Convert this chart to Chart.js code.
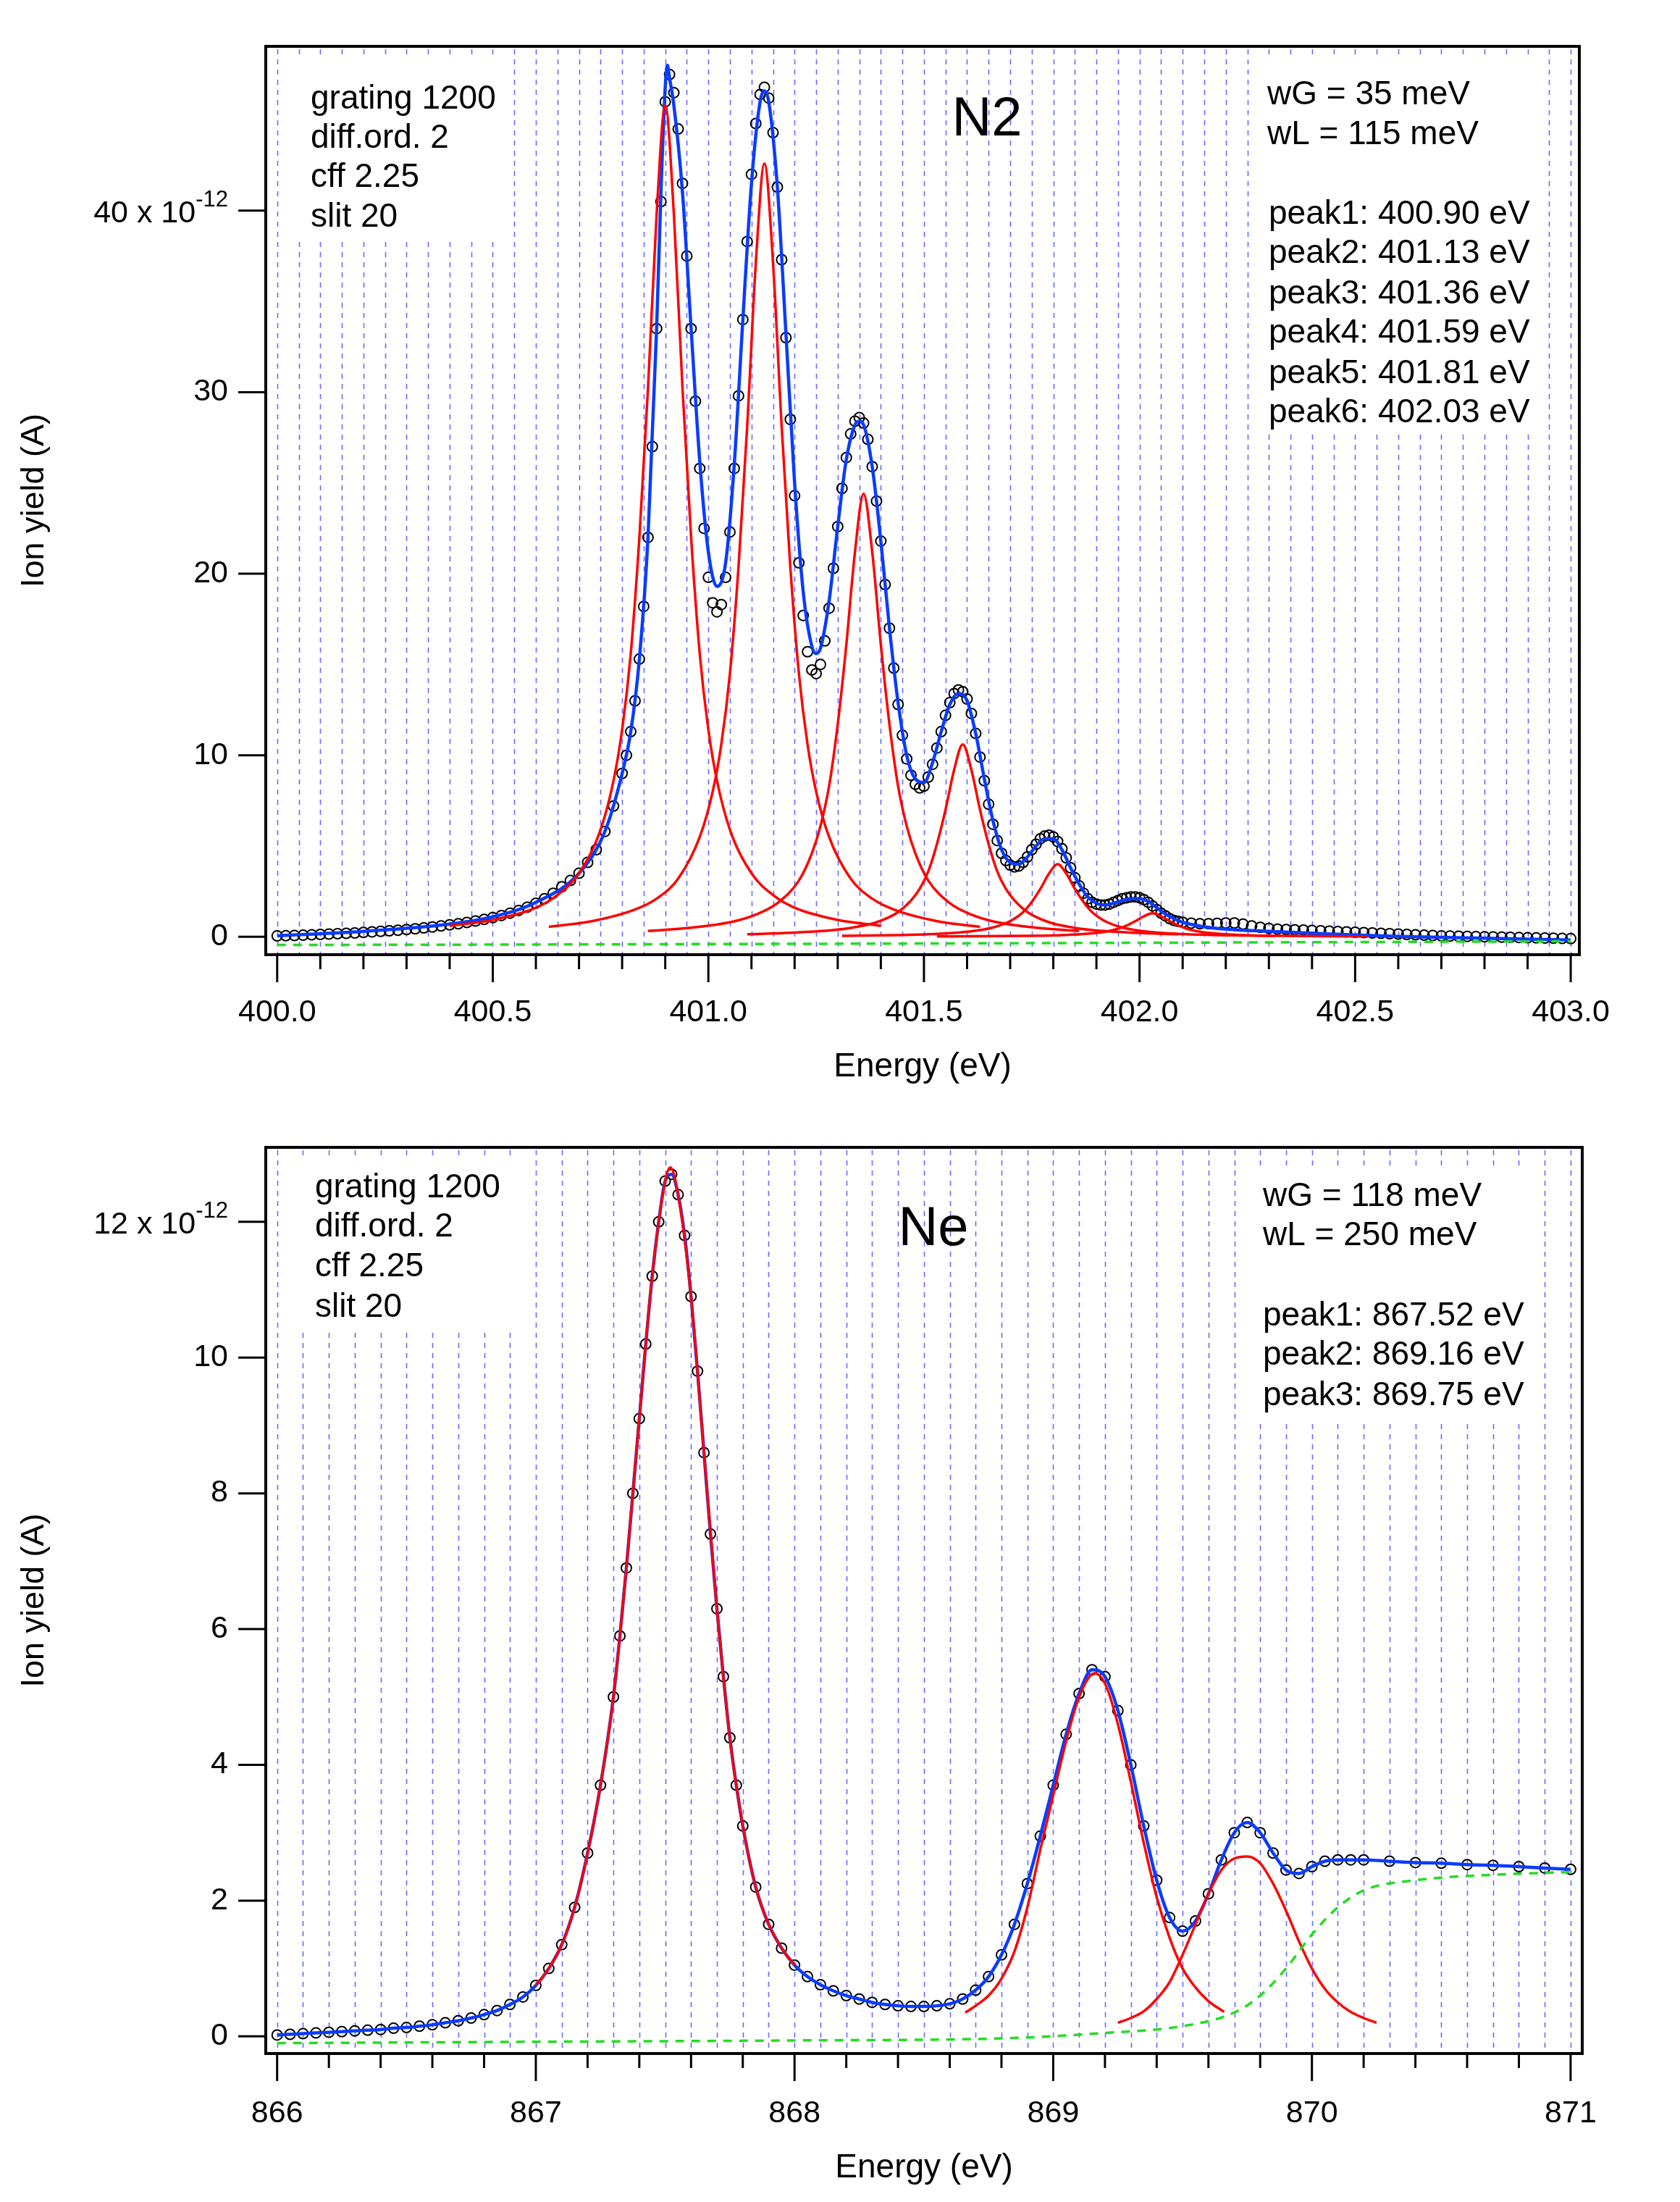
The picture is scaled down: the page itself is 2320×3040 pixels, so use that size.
<!DOCTYPE html>
<html><head><meta charset="utf-8">
<script src="https://cdn.jsdelivr.net/npm/chart.js@4.4.1/dist/chart.umd.min.js"></script>
<style>
html,body{margin:0;padding:0;background:#fff;width:2320px;height:3040px;overflow:hidden}
.box{position:absolute;left:0;width:2320px;height:1520px}
</style></head><body>
<div class="box" style="top:0"><canvas id="c1" width="2320" height="1520"></canvas></div>
<div class="box" style="top:1520px"><canvas id="c2" width="2320" height="1520"></canvas></div>
<script>
// ---------- N2 data ----------
const n2Energy = [400.00,400.02,400.04,400.06,400.08,400.10,400.12,400.14,400.16,400.18,400.20,400.22,400.24,400.26,400.28,400.30,400.32,400.34,400.36,400.38,400.40,400.42,400.44,400.46,400.48,400.50,400.52,400.54,400.56,400.58,400.60,400.62,400.64,400.66,400.68,400.70,400.72,400.74,400.76,400.78,
400.80,400.81,400.82,400.83,400.84,400.85,400.86,400.87,400.88,400.89,400.90,400.91,400.92,400.93,400.94,400.95,400.96,400.97,400.98,400.99,
401.00,401.01,401.02,401.03,401.04,401.05,401.06,401.07,401.08,401.09,401.10,401.11,401.12,401.13,401.14,401.15,401.16,401.17,401.18,401.19,
401.20,401.21,401.22,401.23,401.24,401.25,401.26,401.27,401.28,401.29,401.30,401.31,401.32,401.33,401.34,401.35,401.36,401.37,401.38,401.39,
401.40,401.41,401.42,401.43,401.44,401.45,401.46,401.47,401.48,401.49,401.50,401.51,401.52,401.53,401.54,401.55,401.56,401.57,401.58,401.59,
401.60,401.61,401.62,401.63,401.64,401.65,401.66,401.67,401.68,401.69,401.70,401.71,401.72,401.73,401.74,401.75,401.76,401.77,401.78,401.79,
401.80,401.81,401.82,401.83,401.84,401.85,401.86,401.87,401.88,401.89,401.90,401.91,401.92,401.93,401.94,401.95,401.96,401.97,401.98,401.99,
402.00,402.01,402.02,402.03,402.04,402.05,402.06,402.07,402.08,402.09,402.10,
402.12,402.14,402.16,402.18,402.20,402.22,402.24,402.26,402.28,402.30,402.32,402.34,402.36,402.38,402.40,402.42,402.44,402.46,402.48,402.50,
402.52,402.54,402.56,402.58,402.60,402.62,402.64,402.66,402.68,402.70,402.72,402.74,402.76,402.78,402.80,402.82,402.84,402.86,402.88,402.90,402.92,402.94,402.96,402.98,403.00];
const n2Yield = [0.05,0.06,0.07,0.09,0.11,0.13,0.15,0.17,0.19,0.21,0.24,0.27,0.3,0.33,0.36,0.4,0.44,0.49,0.54,0.6,0.66,0.72,0.79,0.87,0.96,1.06,1.17,1.3,1.45,1.63,1.85,2.1,2.4,2.75,3.1,3.5,4.1,4.8,5.8,7.2,
9.0,10.0,11.3,13.0,15.3,18.2,22.0,27.0,33.5,40.5,46.0,47.5,46.5,44.5,41.5,37.5,33.5,29.5,25.8,22.5,
19.8,18.4,17.9,18.3,19.8,22.3,25.8,29.8,34.0,38.3,42.0,44.8,46.4,46.8,46.2,44.3,41.3,37.3,33.0,28.5,
24.3,20.6,17.7,15.7,14.7,14.5,15.0,16.3,18.1,20.3,22.6,24.7,26.4,27.7,28.4,28.6,28.3,27.4,25.9,24.0,
21.8,19.4,17.0,14.8,12.8,11.1,9.8,8.9,8.4,8.2,8.3,8.8,9.5,10.4,11.3,12.2,12.9,13.4,13.6,13.5,
13.1,12.3,11.2,9.9,8.6,7.3,6.2,5.3,4.6,4.2,3.95,3.85,3.9,4.1,4.4,4.8,5.1,5.4,5.55,5.6,
5.5,5.25,4.85,4.35,3.8,3.25,2.8,2.4,2.1,1.9,1.8,1.75,1.75,1.8,1.9,2.0,2.1,2.15,2.2,2.2,
2.15,2.05,1.9,1.7,1.5,1.3,1.15,1.0,0.9,0.85,0.8,
0.75,0.72,0.72,0.74,0.76,0.76,0.7,0.6,0.52,0.46,0.42,0.4,0.38,0.37,0.35,0.33,0.31,0.29,0.27,0.25,
0.23,0.21,0.19,0.17,0.15,0.13,0.11,0.09,0.07,0.05,0.04,0.03,0.02,0.01,0.0,-0.01,-0.02,-0.03,-0.04,-0.05,-0.06,-0.07,-0.08,-0.09,-0.1];
const n2FitEnergy = [400.0,400.2,400.4,400.5,400.6,400.7,400.76,400.80,400.82,400.84,400.86,400.88,400.89,400.90,400.905,400.91,400.92,400.94,400.96,400.98,
401.00,401.02,401.04,401.06,401.08,401.10,401.12,401.13,401.14,401.16,401.18,401.20,401.22,401.24,401.25,401.26,401.28,401.30,401.32,401.34,401.35,401.36,401.38,
401.40,401.42,401.44,401.46,401.48,401.50,401.52,401.54,401.56,401.58,401.60,401.62,401.64,401.66,401.68,401.70,401.72,401.74,401.76,401.78,
401.80,401.82,401.84,401.86,401.88,401.90,401.92,401.94,401.96,401.98,402.00,402.02,402.04,402.06,402.08,402.10,402.15,402.2,402.3,402.4,402.5,402.6,402.8,403.0];
const n2Fit = [0.05,0.3,0.7,1.1,1.9,3.5,5.8,9.0,11.3,15.3,22.0,33.5,41.0,46.8,48.0,47.3,45.8,41.0,33.5,26.2,
21.2,19.3,20.6,26.0,34.0,41.5,46.0,46.6,46.0,41.3,33.2,25.0,19.0,16.0,15.6,15.9,18.5,22.6,26.3,28.2,28.4,28.2,25.9,
21.8,17.0,12.9,10.0,8.7,8.5,9.6,11.3,12.8,13.4,13.0,11.2,8.7,6.4,4.8,4.1,4.0,4.4,5.0,5.4,
5.4,4.8,3.8,2.9,2.2,1.85,1.75,1.85,2.0,2.1,2.1,1.95,1.6,1.25,1.0,0.8,0.55,0.42,0.3,0.2,0.1,0.02,-0.08,-0.18];
const n2PeakOffsets = [-0.5,-0.4,-0.3,-0.25,-0.2,-0.15,-0.12,-0.1,-0.08,-0.06,-0.04,-0.02,0,0.02,0.04,0.06,0.08,0.1,0.12,0.15,0.2,0.25,0.3,0.4,0.5];
const n2PeakCenters = [400.90,401.13,401.36,401.59,401.81,402.03];
const n2Peak1 = [0.6,0.93,1.6,2.3,3.5,5.9,8.6,11.4,15.6,22,30.2,39.8,45.8,39.8,30.2,22,15.6,11.4,8.6,5.9,3.5,2.3,1.6,0.93,0.6];
const n2Peak2 = [0.55,0.86,1.5,2.1,3.2,5.5,8.0,10.6,14.5,20.4,28.1,37.1,42.6,37.1,28.1,20.4,14.5,10.6,8.0,5.5,3.2,2.1,1.5,0.86,0.55];
const n2Peak3 = [0.32,0.5,0.85,1.22,1.85,3.1,4.6,6.1,8.3,11.7,16.1,21.2,24.4,21.2,16.1,11.7,8.3,6.1,4.6,3.1,1.85,1.22,0.85,0.5,0.32];
const n2Peak4 = [0.14,0.22,0.37,0.53,0.8,1.36,2.0,2.64,3.6,5.1,7.0,9.2,10.6,9.2,7.0,5.1,3.6,2.64,2.0,1.36,0.8,0.53,0.37,0.22,0.14];
const n2Peak5 = [0.05,0.08,0.14,0.2,0.3,0.51,0.75,1.0,1.36,1.92,2.64,3.48,4.0,3.48,2.64,1.92,1.36,1.0,0.75,0.51,0.3,0.2,0.14,0.08,0.05];
const n2Peak6 = [0.02,0.03,0.05,0.065,0.1,0.17,0.24,0.32,0.44,0.62,0.86,1.13,1.3,1.13,0.86,0.62,0.44,0.32,0.24,0.17,0.1,0.065,0.05,0.03,0.02];
const n2BaseEnergy = [400.0,400.5,401.0,401.5,402.0,402.5,403.0];
const n2Base = [-0.45,-0.43,-0.4,-0.37,-0.33,-0.29,-0.25];
const n2YTicks = [0,10,20,30,40];

// ---------- Ne data ----------
const neEnergy = [866.00,866.05,866.10,866.15,866.20,866.25,866.30,866.35,866.40,866.45,866.50,866.55,866.60,866.65,866.70,866.75,866.80,866.85,866.90,866.95,
867.00,867.05,867.10,867.15,867.20,867.25,867.30,867.325,867.35,867.375,867.40,867.425,867.45,867.475,867.50,867.525,867.55,867.575,867.60,867.625,867.65,867.675,867.70,867.725,867.75,867.775,867.80,867.85,867.90,867.95,
868.00,868.05,868.10,868.15,868.20,868.25,868.30,868.35,868.40,868.45,868.50,868.55,868.60,868.65,868.70,868.75,868.80,868.85,868.90,868.95,
869.00,869.05,869.10,869.15,869.20,869.25,869.30,869.35,869.40,869.45,869.50,869.55,869.60,869.65,869.70,869.75,869.80,869.85,869.90,869.95,
870.00,870.05,870.10,870.15,870.20,870.30,870.40,870.50,870.60,870.70,870.80,870.90,871.00];
const neYield = [0.02,0.03,0.04,0.05,0.06,0.07,0.08,0.09,0.10,0.12,0.13,0.15,0.17,0.20,0.23,0.27,0.32,0.38,0.47,0.58,
0.75,1.0,1.35,1.9,2.7,3.7,5.0,5.9,6.9,8.0,9.1,10.2,11.2,12.0,12.6,12.7,12.4,11.8,10.9,9.8,8.6,7.4,6.3,5.3,4.4,3.7,3.1,2.2,1.65,1.3,
1.05,0.88,0.76,0.67,0.6,0.55,0.5,0.47,0.45,0.44,0.44,0.45,0.48,0.55,0.68,0.88,1.2,1.65,2.25,2.95,
3.7,4.45,5.05,5.4,5.3,4.8,4.0,3.1,2.3,1.75,1.55,1.7,2.1,2.6,3.0,3.15,3.0,2.7,2.45,2.4,
2.5,2.58,2.6,2.6,2.6,2.58,2.56,2.55,2.53,2.52,2.5,2.48,2.46];
const neFit = neYield; // the fit coincides with the measured points
const nePeak1Energy = [867.0,867.05,867.1,867.15,867.2,867.25,867.3,867.35,867.4,867.45,867.5,867.52,867.55,867.6,867.65,867.7,867.75,867.8,867.85,867.9,867.95,868.0];
const nePeak1 = [0.75,1.0,1.35,1.9,2.7,3.7,5.0,6.9,9.1,11.2,12.6,12.8,12.4,10.9,8.6,6.3,4.4,3.1,2.2,1.65,1.3,1.05];
const nePeak2Energy = [868.66,868.7,868.75,868.8,868.85,868.9,868.95,869.0,869.05,869.1,869.16,869.2,869.25,869.3,869.35,869.4,869.45,869.5,869.55,869.6,869.66];
const nePeak2 = [0.35,0.45,0.6,0.85,1.25,1.9,2.75,3.55,4.35,5.0,5.35,5.2,4.6,3.75,2.85,2.05,1.45,1.0,0.72,0.52,0.36];
const nePeak3Energy = [869.25,869.3,869.35,869.4,869.45,869.5,869.55,869.6,869.65,869.7,869.75,869.8,869.85,869.9,869.95,870.0,870.05,870.1,870.15,870.2,870.25];
const nePeak3 = [0.2,0.27,0.37,0.55,0.8,1.2,1.65,2.1,2.45,2.62,2.65,2.55,2.25,1.85,1.4,1.0,0.7,0.5,0.36,0.27,0.2];
const neBaseEnergy = [866,867,868,868.8,869.2,869.5,869.7,869.8,869.9,870.0,870.1,870.2,870.4,870.7,871];
const neBase = [-0.1,-0.08,-0.06,-0.03,0.05,0.15,0.35,0.6,1.0,1.5,1.9,2.15,2.3,2.38,2.42];
const neYTicks = [0,2,4,6,8,10,12];

// ---------- helpers ----------
const FONT = '"Liberation Sans", Arial, sans-serif';
const zip = (xs, ys) => xs.map((x, i) => ({x, y: ys[i]}));
const circles = (xs, ys) => ({type:'line', data: zip(xs, ys), showLine:false, pointStyle:'circle', pointRadius:7,
  pointBorderWidth:2, pointBorderColor:'#000', pointBackgroundColor:'rgba(0,0,0,0)', order:5});
const line = (xs, ys, color, w, order, dash) => ({type:'line', data: zip(xs, ys), borderColor: color, borderWidth: w,
  pointRadius:0, fill:false, tension:0.35, order, borderDash: dash || [], cubicInterpolationMode:'monotone'});

const deco = {
  id:'deco',
  beforeDatasetsDraw(chart, args, o) {
    const {ctx, chartArea:a, scales:{x, y}} = chart;
    ctx.save();
    ctx.strokeStyle = '#6a6aff'; ctx.lineWidth = 1.6; ctx.setLineDash([7,7]);
    for (let v = o.gridStart; v <= o.gridEnd + 1e-9; v += o.gridStep) {
      const px = Math.round(x.getPixelForValue(v)) + 0.5;
      ctx.beginPath(); ctx.moveTo(px, a.top + 4); ctx.lineTo(px, a.bottom); ctx.stroke();
    }
    ctx.setLineDash([]);
    ctx.fillStyle = '#fff';
    o.boxes.forEach(b => ctx.fillRect(b[0], b[1], b[2], b[3]));
    ctx.restore();
  },
  afterDraw(chart, args, o) {
    const {ctx, chartArea:a, scales:{x, y}} = chart;
    ctx.save();
    ctx.strokeStyle = '#000'; ctx.lineWidth = 4;
    ctx.strokeRect(a.left, a.top, a.right - a.left, a.bottom - a.top);
    ctx.lineWidth = 3;
    for (let v = o.xMin; v <= o.xMax + 1e-9; v += o.minorStep) {
      const px = x.getPixelForValue(v);
      const major = Math.abs(v / o.majorStep - Math.round(v / o.majorStep)) < 1e-6;
      ctx.beginPath(); ctx.moveTo(px, a.bottom); ctx.lineTo(px, a.bottom + (major ? 38 : 20)); ctx.stroke();
    }
    ctx.fillStyle = '#000';
    ctx.font = '43px ' + FONT; ctx.textAlign = 'center'; ctx.textBaseline = 'middle';
    o.xLabels.forEach(v => ctx.fillText(v.toFixed(o.xDec), x.getPixelForValue(v), 1398));
    ctx.font = '46px ' + FONT;
    ctx.fillText('Energy (eV)', (a.left + a.right) / 2, 1473);
    o.yTicks.forEach((v, i) => {
      const py = y.getPixelForValue(v);
      ctx.beginPath(); ctx.moveTo(a.left - 38, py); ctx.lineTo(a.left, py); ctx.stroke();
      ctx.textAlign = 'right';
      if (i === o.yTicks.length - 1) {
        ctx.font = '31px ' + FONT;
        const sw = ctx.measureText('-12').width;
        ctx.fillText('-12', 315, py - 14);
        ctx.font = '43px ' + FONT;
        ctx.fillText(v + ' x 10', 315 - sw, py + 4);
      } else {
        ctx.font = '43px ' + FONT;
        ctx.fillText(String(v), 315, py);
      }
    });
    ctx.save();
    ctx.translate(48, (a.top + a.bottom) / 2); ctx.rotate(-Math.PI / 2);
    ctx.textAlign = 'center'; ctx.font = '45px ' + FONT;
    ctx.fillText('Ion yield (A)', 0, 0);
    ctx.restore();
    o.texts.forEach(t => { ctx.font = t[3] + 'px ' + FONT; ctx.textAlign = t[4] || 'left'; ctx.fillText(t[0], t[1], t[2]); });
    ctx.restore();
  }
};

// ---------- N2 chart ----------
const n2Sets = [circles(n2Energy, n2Yield), line(n2FitEnergy, n2Fit, '#0a3cff', 4.5, 3)];
[n2Peak1, n2Peak2, n2Peak3, n2Peak4, n2Peak5, n2Peak6].forEach((p, k) =>
  n2Sets.push(line(n2PeakOffsets.map(d => +(n2PeakCenters[k] + d).toFixed(3)), p, '#ff0000', 3.5, 2)));
n2Sets.push(line(n2BaseEnergy, n2Base, '#22dd22', 3.5, 1, [12, 10]));

new Chart(document.getElementById('c1'), {
  data: {datasets: n2Sets},
  plugins: [deco],
  options: {
    responsive:false, animation:false, events:[],
    layout:{padding:{left:367, right:139, top:64, bottom:202}},
    scales:{
      x:{type:'linear', min:399.9735, max:403.02, display:false},
      y:{type:'linear', min:-0.986, max:49.05, display:false}
    },
    plugins:{legend:{display:false}, tooltip:{enabled:false},
      deco:{gridStart:400.0, gridEnd:403.0, gridStep:0.05, xMin:400.0, xMax:403.0, minorStep:0.1, majorStep:0.5,
        xLabels:[400,400.5,401,401.5,402,402.5,403], xDec:1, yTicks:n2YTicks,
        boxes:[[400,80,300,250],[1735,80,400,520]],
        texts:[['grating 1200',429,137,46],['diff.ord. 2',429,191,46],['cff 2.25',429,245,46],['slit 20',429,300,46],
          ['N2',1363,166,76,'center'],
          ['wG = 35 meV',1750,131,46],['wL = 115 meV',1750,186,46],
          ['peak1: 400.90 eV',1752,296,46],['peak2: 401.13 eV',1752,350,46],['peak3: 401.36 eV',1752,406,46],
          ['peak4: 401.59 eV',1752,460,46],['peak5: 401.81 eV',1752,516,46],['peak6: 402.03 eV',1752,570,46]]}
    }
  }
});

// ---------- Ne chart ----------
new Chart(document.getElementById('c2'), {
  data: {datasets: [
    circles(neEnergy, neYield),
    line(neEnergy, neFit, '#0a3cff', 4.5, 3),
    line(nePeak1Energy, nePeak1, '#ff0000', 3.5, 2),
    line(nePeak2Energy, nePeak2, '#ff0000', 3.5, 2),
    line(nePeak3Energy, nePeak3, '#ff0000', 3.5, 2),
    line(neBaseEnergy, neBase, '#22dd22', 3.5, 1, [12, 10])
  ]},
  plugins: [deco],
  options: {
    responsive:false, animation:false, events:[],
    layout:{padding:{left:367, right:135, top:64, bottom:205}},
    scales:{
      x:{type:'linear', min:865.956, max:871.045, display:false},
      y:{type:'linear', min:-0.253, max:13.097, display:false}
    },
    plugins:{legend:{display:false}, tooltip:{enabled:false},
      deco:{gridStart:866.0, gridEnd:871.0, gridStep:0.1, xMin:866, xMax:871, minorStep:0.2, majorStep:1,
        xLabels:[866,867,868,869,870,871], xDec:0, yTicks:neYTicks,
        boxes:[[405,80,310,240],[1725,90,400,350]],
        texts:[['grating 1200',435,120,46],['diff.ord. 2',435,174,46],['cff 2.25',435,229,46],['slit 20',435,285,46],
          ['Ne',1289,178,76,'center'],
          ['wG = 118 meV',1744,132,46],['wL = 250 meV',1744,186,46],
          ['peak1: 867.52 eV',1744,297,46],['peak2: 869.16 eV',1744,351,46],['peak3: 869.75 eV',1744,407,46]]}
    }
  }
});
</script>
</body></html>
